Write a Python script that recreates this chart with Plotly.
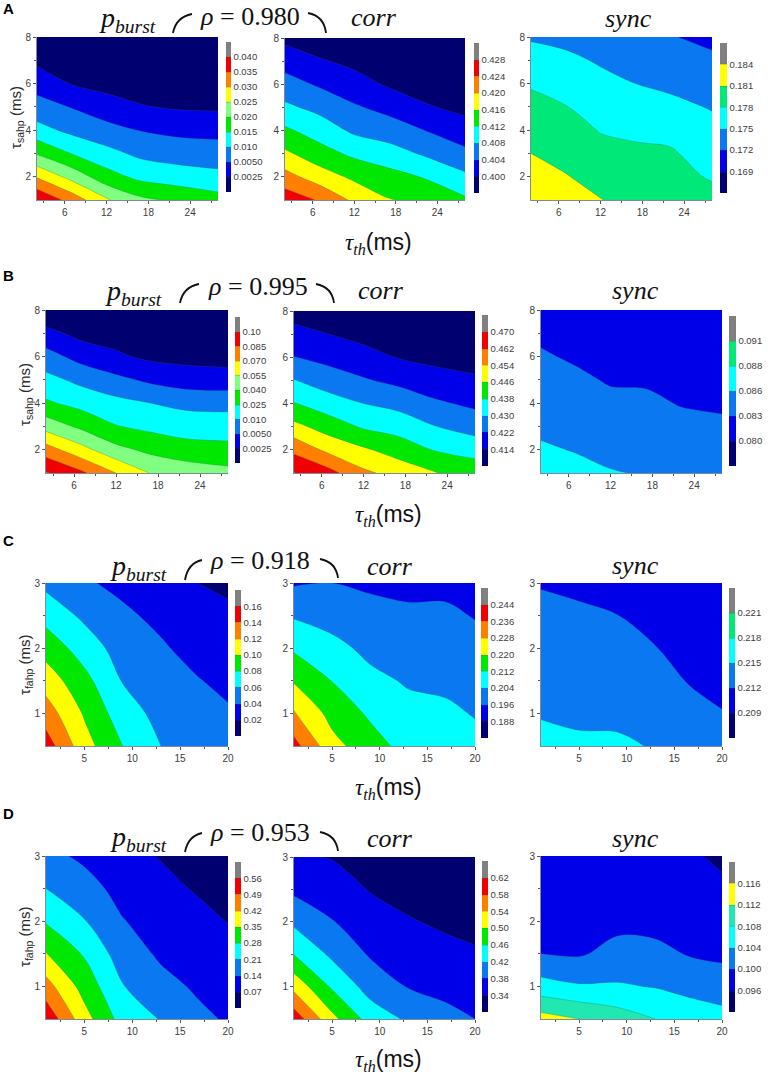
import numpy as np
import plotly.graph_objects as go

W, H = 768, 1075

NAVY, BLUE, AZURE, CYAN = "#000070", "#0000e8", "#0a78f0", "#00ffff"
GREEN, LIGHT, YELLOW, ORANGE, RED, GRAY = "#00e800", "#80ff80", "#ffff00", "#ff8000", "#f00000", "#808080"
SPRING, TEAL = "#00e878", "#20e8b0"

x_ab = [2, 7, 12, 17, 22, 28]
y_ab = [1, 2, 3, 4, 5, 6, 7, 8]
x_cd = [1, 5, 9, 13, 17, 20]
y_cd = [0.5, 1, 1.5, 2, 2.5, 3]

lv_a1 = ["0.0025", "0.0050", "0.010", "0.015", "0.020", "0.025", "0.030", "0.035", "0.040"]
lv_a2 = ["0.400", "0.404", "0.408", "0.412", "0.416", "0.420", "0.424", "0.428"]
lv_a3 = ["0.169", "0.172", "0.175", "0.178", "0.181", "0.184"]
lv_b1 = ["0.0025", "0.0050", "0.010", "0.025", "0.040", "0.055", "0.070", "0.085", "0.10"]
lv_b2 = ["0.414", "0.422", "0.430", "0.438", "0.446", "0.454", "0.462", "0.470"]
lv_b3 = ["0.080", "0.083", "0.086", "0.088", "0.091"]
lv_c1 = ["0.02", "0.04", "0.06", "0.08", "0.10", "0.12", "0.14", "0.16"]
lv_c2 = ["0.188", "0.196", "0.204", "0.212", "0.220", "0.228", "0.236", "0.244"]
lv_c3 = ["0.209", "0.212", "0.215", "0.218", "0.221"]
lv_d1 = ["0.07", "0.14", "0.21", "0.28", "0.35", "0.42", "0.49", "0.56"]
lv_d2 = ["0.34", "0.38", "0.42", "0.46", "0.50", "0.54", "0.58", "0.62"]
lv_d3 = ["0.096", "0.100", "0.104", "0.108", "0.112", "0.116"]

z_a1 = [
    [.03975, .033, .0255, .021, .01925, .017],
    [.0295, .02325, .017, .0136, .01235, .01125],
    [.0195, .01485, .0115, .00885, .0079, .0075],
    [.01175, .00875, .00675, .00488, .00438, .00415],
    [.007, .00488, .0035, .00263, .00225, .00213],
    [.004, .00238, .00175, .0015, .00125, .00113],
    [.002, .001, .00088, .00075, .00063, .0005],
    [.00025, .00025, .00025, .00025, .00025, .00013],
]
z_a2 = [
    [.4264, .4236, .4192, .4162, .4152, .4126],
    [.4215, .418, .4152, .4134, .4118, .4088],
    [.4168, .4136, .4112, .4097, .4076, .4051],
    [.4127, .4102, .4073, .406, .4041, .4014],
    [.4088, .4069, .4045, .4028, .4004, .3992],
    [.4056, .4035, .4016, .3995, .3986, .3978],
    [.4024, .4004, .399, .398, .3974, .397],
    [.399, .3976, .3968, .3966, .3964, .3962],
]
z_a3 = [
    [.18325, .1822, .18109, .17995, .17965, .1792],
    [.18205, .18115, .18001, .1792, .17905, .1777],
    [.181, .1801, .1789, .1786, .17836, .17665],
    [.17995, .17914, .17785, .1774, .1771, .1759],
    [.1789, .17809, .1768, .1762, .17575, .17479],
    [.1777, .17686, .17575, .175, .1744, .17365],
    [.1762, .1756, .1747, .1738, .1732, .17251],
    [.1747, .17425, .1735, .1729, .17215, .17134],
]
z_b1 = [
    [.1015, .088, .07, .05425, .049, .0445],
    [.07675, .06025, .0445, .03625, .031, .0295],
    [.049, .037, .02575, .02125, .01825, .0175],
    [.02725, .02005, .0145, .01, .00875, .0085],
    [.0145, .00875, .00625, .0045, .00375, .0035],
    [.007, .0041, .00288, .002, .00175, .00163],
    [.00325, .00175, .0015, .00113, .001, .00088],
    [.0005, .0005, .00038, .00025, .00025, .00025],
]
z_b2 = [
    [.4704, .4648, .4556, .4512, .4464, .4432],
    [.4601, .452, .4472, .4424, .4378, .4348],
    [.4484, .4424, .437, .4348, .4304, .4268],
    [.4384, .4336, .43, .4276, .4234, .4204],
    [.4304, .426, .4228, .42, .4172, .4152],
    [.4222, .4196, .4168, .4136, .412, .4108],
    [.4168, .414, .4116, .4104, .4096, .4088],
    [.4104, .4092, .4084, .408, .4076, .4072],
]
z_b3 = [
    [.0867, .08644, .0861, .08585, .08525, .08495],
    [.0862, .08588, .08531, .08507, .08447, .08414],
    [.08555, .08507, .08447, .08426, .08366, .08342],
    [.0848, .08426, .0836, .08348, .08288, .08264],
    [.08405, .08348, .08276, .0827, .0821, .08186],
    [.08327, .08267, .08192, .08192, .08132, .0812],
    [.08255, .08186, .0812, .08114, .0809, .08075],
    [.0818, .08105, .0806, .0806, .08045, .0803],
]
z_c1 = [
    [.15, .108, .08, .06, .054, .048],
    [.13, .098, .069, .054, .047, .042],
    [.111, .086, .059, .048, .0406, .036],
    [.092, .071, .051, .042, .034, .03],
    [.073, .056, .043, .036, .027, .023],
    [.055, .042, .036, .029, .0196, .017],
]
z_c2 = [
    [.2388, .2228, .2152, .2092, .2076, .206],
    [.2288, .2172, .2108, .2064, .2052, .2036],
    [.2192, .2118, .206, .2032, .2026, .2008],
    [.2108, .2064, .202, .2004, .2, .1984],
    [.2032, .2008, .1984, .1974, .1974, .1956],
    [.1952, .196, .1948, .194, .194, .192],
]
z_c3 = [
    [.2159, .21536, .21536, .21485, .2138, .2132],
    [.21479, .21461, .21452, .21395, .2129, .21209],
    [.21404, .21383, .21368, .21302, .2117, .2114],
    [.21332, .21308, .21284, .21209, .21065, .2108],
    [.2126, .21233, .21203, .21116, .2099, .21005],
    [.21185, .21158, .21119, .21026, .20945, .20945],
]
z_d1 = [
    [.5425, .378, .252, .2065, .154, .133],
    [.448, .322, .2135, .161, .1295, .112],
    [.3535, .273, .175, .1295, .1085, .091],
    [.273, .2135, .1435, .1085, .0875, .0679],
    [.21, .168, .1155, .0875, .063, .0455],
    [.161, .126, .091, .0665, .042, .028],
]
z_d2 = [
    [.604, .512, .444, .414, .39, .38],
    [.528, .454, .404, .378, .37, .362],
    [.4588, .412, .376, .36, .35, .344],
    [.412, .382, .356, .3428, .334, .33],
    [.372, .358, .338, .328, .322, .318],
    [.344, .338, .322, .316, .312, .308],
]
z_d3 = [
    [.1136, .112, .11, .108, .106, .1054],
    [.1056, .1044, .1044, .1038, .1028, .102],
    [.1, .0996, .1012, .101, .0996, .0992],
    [.099, .0986, .099, .0988, .0982, .0978],
    [.0982, .0978, .0978, .0976, .0972, .0966],
    [.0974, .097, .0968, .0966, .09632, .0954],
]

BANDS10 = [NAVY, BLUE, AZURE, CYAN, GREEN, LIGHT, YELLOW, ORANGE, RED, GRAY]
BANDS9 = [NAVY, BLUE, AZURE, CYAN, GREEN, YELLOW, ORANGE, RED, GRAY]
BANDS7 = [NAVY, BLUE, AZURE, CYAN, SPRING, YELLOW, GRAY]
BANDS7D = [NAVY, BLUE, AZURE, CYAN, TEAL, YELLOW, GRAY]
BANDS6 = [NAVY, BLUE, AZURE, CYAN, SPRING, GRAY]

panels = [
    (x_ab, y_ab, z_a1, lv_a1, BANDS10, (37, 218, 37, 200), (226, 231, 42, 192)),
    (x_ab, y_ab, z_a2, lv_a2, BANDS9, (285, 465, 38, 200), (474, 479, 43, 193)),
    (x_ab, y_ab, z_a3, lv_a3, BANDS7, (531, 712, 37, 200), (720, 727, 43, 193)),
    (x_ab, y_ab, z_b1, lv_b1, BANDS10, (46, 228, 310, 473), (235, 240, 317, 463)),
    (x_ab, y_ab, z_b2, lv_b2, BANDS9, (294, 475, 311, 473), (482, 488, 315, 466)),
    (x_ab, y_ab, z_b3, lv_b3, BANDS6, (541, 722, 310, 473), (729, 736, 316, 466)),
    (x_cd, y_cd, z_c1, lv_c1, BANDS9, (46, 228, 583, 746), (235, 241, 590, 736)),
    (x_cd, y_cd, z_c2, lv_c2, BANDS9, (294, 475, 583, 746), (481, 488, 588, 738)),
    (x_cd, y_cd, z_c3, lv_c3, BANDS6, (541, 722, 583, 746), (729, 735, 588, 738)),
    (x_cd, y_cd, z_d1, lv_d1, BANDS9, (46, 228, 856, 1019), (235, 241, 862, 1008)),
    (x_cd, y_cd, z_d2, lv_d2, BANDS9, (294, 475, 857, 1019), (482, 488, 861, 1012)),
    (x_cd, y_cd, z_d3, lv_d3, BANDS7D, (541, 722, 856, 1019), (729, 735, 862, 1012)),
]

SANS = "Liberation Sans, Arial, sans-serif"
SERIF = "Liberation Serif, DejaVu Serif, serif"
TICK = "#3c3c3c"
fig = go.Figure()
layout = {}


def to_band(z, labels):
    lv = [float(s) for s in labels]
    edges = [lv[0] - (lv[1] - lv[0])] + lv + [lv[-1] + (lv[-1] - lv[-2])]
    return np.interp(np.array(z), edges, np.arange(len(edges)))


for i, (xs, ys, z, labels, bands, box, bar) in enumerate(panels):
    n = len(bands)
    scale = []
    for k, c in enumerate(bands):
        scale += [[k / n, c], [(k + 1) / n, c]]
    ax = "" if i == 0 else str(i + 1)
    fig.add_trace(go.Contour(
        x=xs, y=ys, z=to_band(z, labels).tolist(),
        xaxis="x" + ax, yaxis="y" + ax,
        autocontour=False, zauto=False, zmin=0, zmax=n,
        contours=dict(start=1, end=n - 1, size=1, coloring="fill", showlines=True),
        line=dict(width=0.6, color="rgba(40,90,70,0.45)", smoothing=1.0),
        colorscale=scale,
        colorbar=dict(
            x=bar[0] / W, xanchor="left", y=1 - bar[3] / H, yanchor="bottom",
            len=(bar[3] - bar[2]) / H, lenmode="fraction",
            thickness=bar[1] - bar[0], thicknessmode="pixels",
            xpad=0, ypad=0, outlinewidth=0, borderwidth=0,
            tickmode="array", tickvals=list(range(1, n)), ticktext=labels,
            ticks="", tickfont=dict(family=SANS, size=9.5, color=TICK),
        ),
        hoverinfo="skip",
    ))
    x0, x1, y0, y1 = box
    is_ab = xs is x_ab
    layout["xaxis" + ax] = dict(
        domain=[x0 / W, x1 / W], anchor="y" + ax, range=[xs[0], xs[-1]],
        tickmode="array", tickvals=[6, 12, 18, 24] if is_ab else [5, 10, 15, 20],
        minor=dict(tickmode="array", tickvals=[3, 9, 15, 21, 27] if is_ab else [2.5, 7.5, 12.5, 17.5],
                   ticks="outside", ticklen=2, tickcolor="#555", tickwidth=0.8),
        ticks="outside", ticklen=3, tickcolor="#555", tickwidth=0.8,
        showgrid=False, zeroline=False, showline=True, linecolor="#7d8aa0", linewidth=1,
        tickfont=dict(family=SANS, size=10, color=TICK),
    )
    layout["yaxis" + ax] = dict(
        domain=[1 - y1 / H, 1 - y0 / H], anchor="x" + ax, range=[ys[0], ys[-1]],
        tickmode="array", tickvals=[2, 4, 6, 8] if is_ab else [1, 2, 3],
        minor=dict(tickmode="array", tickvals=[3, 5, 7] if is_ab else [1.5, 2.5],
                   ticks="outside", ticklen=2, tickcolor="#555", tickwidth=0.8),
        ticks="outside", ticklen=3, tickcolor="#555", tickwidth=0.8,
        showgrid=False, zeroline=False, showline=True, linecolor="#7d8aa0", linewidth=1,
        tickfont=dict(family=SANS, size=10, color=TICK),
    )

annotations = []


def text(px, py, s, size, family=SERIF, color="#111", angle=0):
    annotations.append(dict(
        x=px / W, y=1 - py / H, xref="paper", yref="paper", text=s, showarrow=False,
        xanchor="center", yanchor="middle", textangle=angle,
        font=dict(family=family, size=size, color=color),
    ))


rows = [
    ("A", 8, 9, "0.980", 250, 16, (127, 20), (374, 18), (628, 19), (378, 243), (16, 118), "sahp",
     ((173, 33), (192, 14)), ((308, 13), (326, 33))),
    ("B", 8, 275, "0.995", 258, 287, (133, 292), (381, 290), (635, 290), (388, 515), (25, 395), "sahp",
     ((180, 303), (199, 284)), ((316, 284), (334, 303))),
    ("C", 8, 540, "0.918", 260, 560, (138, 567), (390, 566), (635, 565), (388, 788), (25, 665), "fahp",
     ((185, 580), (202, 560)), ((320, 559), (338, 578))),
    ("D", 8, 813, "0.953", 260, 832, (138, 838), (390, 838), (635, 838), (388, 1060), (25, 937), "fahp",
     ((185, 852), (202, 833)), ((320, 832), (338, 851))),
]
shapes = []


def fx(v):
    return f"{v / W:.5f}"


def fy(v):
    return f"{1 - v / H:.5f}"


for let, lx, ly, rho, rx, ry, pb, co, sy, tt, yl, sub, arc_l, arc_r in rows:
    text(lx, ly, f"<b>{let}</b>", 15, SANS, "#000")
    text(rx, ry, f"<i>ρ</i> = {rho}", 26)
    text(pb[0], pb[1], "<i>p<sub>burst</sub></i>", 28)
    text(co[0], co[1], "<i>corr</i>", 26)
    text(sy[0], sy[1], "<i>sync</i>", 26)
    text(tt[0], tt[1],
         "<i>τ<sub>th</sub></i><span style='font-family:Liberation Sans'>(ms)</span>", 23)
    text(yl[0], yl[1], f"τ<sub>{sub}</sub> (ms)", 15, SANS, "#2a2a2a", -90)
    (a, b), (c, d) = arc_l
    shapes.append(dict(type="path", xref="paper", yref="paper",
                       path=f"M {fx(a)} {fy(b)} Q {fx(a + 3)} {fy(d + 3)} {fx(c)} {fy(d)}",
                       line=dict(color="#111", width=1.8)))
    (a, b), (c, d) = arc_r
    shapes.append(dict(type="path", xref="paper", yref="paper",
                       path=f"M {fx(a)} {fy(b)} Q {fx(c - 2)} {fy(b + 3)} {fx(c)} {fy(d)}",
                       line=dict(color="#111", width=1.8)))

fig.update_layout(
    width=W, height=H, margin=dict(l=0, r=0, t=0, b=0, autoexpand=False),
    paper_bgcolor="white", plot_bgcolor="white", showlegend=False,
    annotations=annotations, shapes=shapes, **layout,
)
fig.write_html("out.html", config={"displayModeBar": False},
               post_script="document.body.style.margin='0';document.body.style.overflow='hidden';")
